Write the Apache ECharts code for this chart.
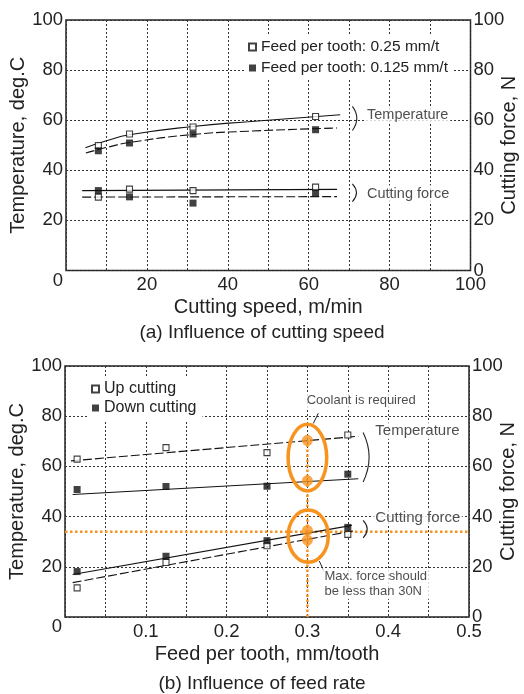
<!DOCTYPE html>
<html>
<head>
<meta charset="utf-8">
<style>
  html, body { margin: 0; padding: 0; background: #fff; }
  #chart { width: 524px; height: 694px; }
</style>
<script src="https://cdn.jsdelivr.net/npm/echarts@6/dist/echarts.min.js"></script>
</head>
<body>
<div id="chart"></div>
<script>
/* ---- (a) influence of cutting speed ---- */
const speedA = [8, 15.7, 31.4, 61.7];
const tempOpenA = [49.9, 54.5, 57.3, 61.5];      // feed 0.25 mm/t
const tempFilledA = [47.8, 50.9, 54.5, 56.2];    // feed 0.125 mm/t
const forceOpenA = [29.3, 32.5, 31.9, 33.3];
const forceFilledA = [31.9, 29.4, 26.9, 30.9];
// fitted curves
const tempFitOpenA = [[4.8, 49.0], [10, 51.8], [15.7, 54.2], [31.4, 57.5], [45, 59.4], [67.8, 62.2]];
const tempFitFilledA = [[4.9, 46.9], [10, 49.1], [15.7, 51.1], [31.4, 54.3], [45, 55.6], [67, 56.9]];
const forceFitOpenA = [[4, 31.9], [67, 32.4]];
const forceFitFilledA = [[4, 29.3], [67, 29.5]];
const bracketsA = [[70.8, 65.5, 55.9], [70.8, 34.6, 27.5]];
const notesA = [
  { name: "Temperature", value: [73.8, 62.2] },
  { name: "Cutting force", value: [73.8, 30.6] },
];
const seriesNamesA = ["Feed per tooth: 0.25 mm/t", "Feed per tooth: 0.125 mm/t"];

/* ---- (b) influence of feed rate ---- */
const feedB = [0.015, 0.125, 0.25, 0.35];
const tempUpB = [62.9, 67.5, 65.5, 72.5];
const tempDownB = [50.8, 52.0, 52.1, 56.9];
const forceUpB = [11.6, 21.7, 28.4, 32.9];
const forceDownB = [18.1, 24.2, 30.4, 35.7];
const tempFitUpB = [[0.0074, 62.2], [0.363, 72.0]];
const tempFitDownB = [[0.0095, 48.8], [0.363, 55.1]];
const forceFitDownB = [[0.0095, 16.9], [0.355, 36.5]];
const forceFitUpB = [[0.0095, 13.7], [0.36, 34.5]];
const bracketsB = [[0.369, 73.5, 53.8], [0.369, 38.5, 31.5]];
const coolDotsB = [[0.3, 70.4], [0.3, 54.3]];
const forceDotsB = [[0.3, 34.5], [0.3, 30.6]];
const ellipsesB = [[0.3, 63.5, 0.0239, 13.3], [0.301, 32.2, 0.0248, 10.4]];  // cx, cy, rx, ry (data units)
const limitForceB = 34;
const markFeedB = [[0.3, 0], [0.3, 70.4]];
const leaderCoolB = [[0.3135, 81.2], [0.3073, 77.1]];
const leaderMaxB = [[0.3147, 22.3], [0.3205, 18.3]];
const notesB = [
  { name: "Temperature", value: [0.381, 74.2] },
  { name: "Cutting force", value: [0.381, 39.6] },
];
const smallNotesB = [
  { name: "Coolant is required", value: [0.296, 86.3] },
  { name: "Max. force should\nbe less than 30N", value: [0.318, 13.3] },
];
const seriesNamesB = ["Up cutting", "Down cutting"];

/* ---- styles ---- */
const INK = "#222";
const ORANGE = "#F7931E";
const FONT = "'Liberation Sans', Arial, sans-serif";
const dotted = { color: "#333", width: 1, type: [2, 2] };

const zip = (xs, ys) => xs.map((x, i) => [x, ys[i]]);

const openSq = { symbol: "rect", symbolSize: 6, itemStyle: { color: "#fff", borderColor: "#111", borderWidth: 1.1 } };
const fillSq = { symbol: "rect", symbolSize: 7, itemStyle: { color: "#111" } };

function scatter(name, x, y, data, sym) {
  return Object.assign({ type: "scatter", name, xAxisIndex: x, yAxisIndex: y, data, z: 5, silent: true }, sym);
}
function fit(x, y, data, dashed, smooth) {
  return {
    type: "line", xAxisIndex: x, yAxisIndex: y, data, showSymbol: false, symbol: "none",
    smooth: smooth ? 0.5 : false, silent: true, z: 4,
    lineStyle: { color: "#111", width: 1.1, type: dashed ? [9, 3] : "solid" },
  };
}
function notes(x, y, data, fontSize, lineHeight) {
  return {
    type: "scatter", xAxisIndex: x, yAxisIndex: y, data, symbolSize: 1, silent: true, z: 6,
    itemStyle: { color: "transparent" },
    label: {
      show: true, position: "right", distance: 0, formatter: (p) => p.name,
      fontSize, lineHeight, color: INK, align: "left", verticalAlign: "middle",
      backgroundColor: "#fff", padding: [1, 2],
    },
  };
}
function renderBracket(params, api) {
  const top = api.coord([api.value(0), api.value(1)]);
  const bot = api.coord([api.value(0), api.value(2)]);
  const bulge = 6 + (bot[1] - top[1]) * 0.12;
  return {
    type: "bezierCurve",
    shape: { x1: top[0], y1: top[1], x2: bot[0], y2: bot[1], cpx1: top[0] + bulge, cpy1: (top[1] + bot[1]) / 2 },
    style: { fill: null, stroke: INK, lineWidth: 1.1 },
  };
}
function renderEllipse(params, api) {
  const c = api.coord([api.value(0), api.value(1)]);
  const s = api.size([api.value(2), api.value(3)]);
  return {
    type: "ellipse",
    shape: { cx: c[0], cy: c[1], rx: s[0], ry: s[1] },
    style: { fill: null, stroke: ORANGE, lineWidth: 3.5 },
  };
}
function seg(x, y, data, color, width, type) {
  return {
    type: "line", xAxisIndex: x, yAxisIndex: y, data, showSymbol: false, symbol: "none", silent: true, z: 3,
    lineStyle: { color, width, type },
  };
}

const labelFont = { fontSize: 18.5, color: INK };
const zeroLow = (v) => (v === 0 ? "{lo|0}" : String(v));
const rich = { lo: { fontSize: 18.5, color: INK, padding: [20, 0, 0, 0] } };

function xAxis(grid, max, interval, major, name) {
  return {
    type: "value", gridIndex: grid, min: 0, max, interval,
    axisLine: { show: false }, axisTick: { show: false },
    splitLine: { show: true, lineStyle: dotted },
    axisLabel: Object.assign({ margin: 5, formatter: (v) => {
      const k = Math.round(v / interval);
      return (v > 0 && k % major === 0) ? String(+v.toFixed(2)) : "";
    } }, labelFont),
    name, nameLocation: "middle", nameGap: 27, nameMoveOverlap: false,
    nameTextStyle: { fontSize: 20, color: INK },
  };
}
function yAxis(grid, pos, name) {
  const left = pos === "left";
  return {
    type: "value", gridIndex: grid, position: pos, min: 0, max: 100, interval: 20,
    axisLine: { show: false }, axisTick: { show: false },
    splitLine: { show: left, lineStyle: dotted },
    axisLabel: Object.assign({ margin: 3, formatter: left ? zeroLow : (v) => String(v), rich }, labelFont),
    name, nameLocation: "middle", nameRotate: 90, nameGap: left ? 38 : 29, nameMoveOverlap: false,
    nameTextStyle: { fontSize: 20, color: INK },
  };
}

const option = {
  animation: false,
  backgroundColor: "#fff",
  textStyle: { fontFamily: FONT, color: INK },
  title: [
    { text: "(a) Influence of cutting speed", left: "center", top: 318, textStyle: { fontSize: 19, fontWeight: "normal", color: INK, fontFamily: FONT } },
    { text: "(b) Influence of feed rate", left: "center", top: 669, textStyle: { fontSize: 19, fontWeight: "normal", color: INK, fontFamily: FONT } },
  ],
  legend: [
    {
      data: seriesNamesA, orient: "vertical", left: 244, top: 35, itemWidth: 7, itemHeight: 7, itemGap: 5,
      backgroundColor: "#fff", padding: [4, 6, 4, 4], selectedMode: false,
      textStyle: { fontSize: 15.5, lineHeight: 16, color: INK },
    },
    {
      data: seriesNamesB, orient: "vertical", left: 87, top: 377, itemWidth: 7, itemHeight: 7, itemGap: 3,
      backgroundColor: "#fff", padding: [4, 6, 4, 4], selectedMode: false,
      textStyle: { fontSize: 16, lineHeight: 16, color: INK },
    },
  ],
  grid: [
    { left: 66, top: 20, width: 404.5, height: 250.5, outerBoundsMode: "none", containLabel: false,
      show: true, borderColor: INK, borderWidth: 1.5, backgroundColor: "transparent" },
    { left: 65, top: 366, width: 404, height: 251, outerBoundsMode: "none", containLabel: false,
      show: true, borderColor: INK, borderWidth: 1.5, backgroundColor: "transparent" },
  ],
  xAxis: [
    xAxis(0, 100, 10, 2, "Cutting speed, m/min"),
    xAxis(1, 0.5, 0.05, 2, "Feed per tooth, mm/tooth"),
  ],
  yAxis: [
    yAxis(0, "left", "Temperature, deg.C"),
    yAxis(0, "right", "Cutting force, N"),
    yAxis(1, "left", "Temperature, deg.C"),
    yAxis(1, "right", "Cutting force, N"),
  ],
  series: [
    /* (a) */
    fit(0, 0, tempFitOpenA, false, true),
    fit(0, 0, tempFitFilledA, true, true),
    fit(0, 1, forceFitOpenA, false),
    fit(0, 1, forceFitFilledA, true),
    scatter(seriesNamesA[0], 0, 0, zip(speedA, tempOpenA), openSq),
    scatter(seriesNamesA[1], 0, 0, zip(speedA, tempFilledA), fillSq),
    scatter(seriesNamesA[0], 0, 1, zip(speedA, forceOpenA), openSq),
    scatter(seriesNamesA[1], 0, 1, zip(speedA, forceFilledA), fillSq),
    { type: "custom", xAxisIndex: 0, yAxisIndex: 0, data: bracketsA, renderItem: renderBracket, silent: true, z: 4 },
    notes(0, 0, notesA, 14.5),

    /* (b) */
    seg(1, 3, [[0, limitForceB], [0.5, limitForceB]], ORANGE, 2.5, [2.5, 2.5]),
    seg(1, 2, markFeedB, ORANGE, 2.5, [2.5, 2.5]),
    fit(1, 2, tempFitUpB, true),
    fit(1, 2, tempFitDownB, false),
    fit(1, 3, forceFitDownB, false),
    fit(1, 3, forceFitUpB, true),
    scatter(seriesNamesB[0], 1, 2, zip(feedB, tempUpB), openSq),
    scatter(seriesNamesB[1], 1, 2, zip(feedB, tempDownB), fillSq),
    scatter(seriesNamesB[0], 1, 3, zip(feedB, forceUpB), openSq),
    scatter(seriesNamesB[1], 1, 3, zip(feedB, forceDownB), fillSq),
    { type: "custom", xAxisIndex: 1, yAxisIndex: 2, data: bracketsB, renderItem: renderBracket, silent: true, z: 4 },
    { type: "custom", xAxisIndex: 1, yAxisIndex: 2, data: ellipsesB, renderItem: renderEllipse, silent: true, z: 7 },
    { type: "scatter", xAxisIndex: 1, yAxisIndex: 2, data: coolDotsB, symbol: "circle", symbolSize: 11, itemStyle: { color: ORANGE }, silent: true, z: 8 },
    { type: "scatter", xAxisIndex: 1, yAxisIndex: 3, data: forceDotsB, symbol: "circle", symbolSize: 11, itemStyle: { color: ORANGE }, silent: true, z: 8 },
    seg(1, 2, leaderCoolB, INK, 1, "solid"),
    seg(1, 3, leaderMaxB, INK, 1, "solid"),
    notes(1, 2, notesB, 15),
    notes(1, 2, smallNotesB, 13, 14.7),
  ],
};

const chart = echarts.init(document.getElementById("chart"), null, { renderer: "canvas" });
chart.setOption(option);
</script>
</body>
</html>
